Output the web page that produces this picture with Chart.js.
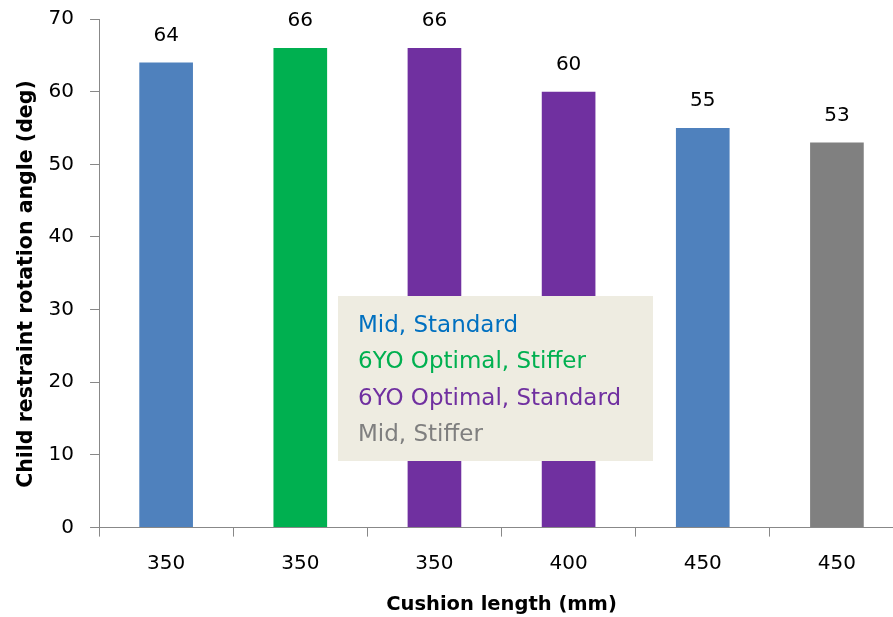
<!DOCTYPE html>
<html>
<head>
<meta charset="utf-8">
<script src="https://cdn.jsdelivr.net/npm/chart.js@4"></script>
<style>
  html, body { margin: 0; padding: 0; background: #fff; overflow: hidden; }
  #wrap { width: 906px; height: 626px; margin-top: -9px; }
</style>
</head>
<body>
<div id="wrap"><canvas id="myChart"></canvas></div>
<script>
// cushion length per run and the resulting rotation angle
const cushionLengths = ['350', '350', '350', '400', '450', '450'];
const rotationAngles = [64, 66, 66, 60, 55, 53];
const configNames = ['Mid, Standard', '6YO Optimal, Stiffer', '6YO Optimal, Standard', 'Mid, Stiffer'];
const configColors = ['#0070C0', '#00B050', '#7030A0', '#7F7F7F'];
const barColors = ['#4F81BD', '#00B050', '#7030A0', '#7030A0', '#4F81BD', '#808080'];
const yTicks = [0, 10, 20, 30, 40, 50, 60, 70];

const FONT = '"DejaVu Sans", sans-serif';

// value above each bar
const valueLabels = {
  id: 'valueLabels',
  afterDatasetsDraw(chart) {
    const ctx = chart.ctx;
    const meta = chart.getDatasetMeta(0);
    ctx.save();
    ctx.font = '20px ' + FONT;
    ctx.fillStyle = '#000';
    ctx.textAlign = 'center';
    ctx.textBaseline = 'middle';
    meta.data.forEach((bar, i) => {
      ctx.fillText(rotationAngles[i], bar.x, bar.y - 27);
    });
    ctx.restore();
  }
};

// text legend box in the middle of the plot (canvas is shifted up 9px)
const configBox = {
  id: 'configBox',
  afterDatasetsDraw(chart) {
    const ctx = chart.ctx;
    ctx.save();
    ctx.fillStyle = '#EEECE1';
    ctx.fillRect(338, 305, 315, 165);
    ctx.font = '23px ' + FONT;
    ctx.textAlign = 'left';
    ctx.textBaseline = 'middle';
    configNames.forEach((name, i) => {
      ctx.fillStyle = configColors[i];
      ctx.fillText(name, 358, 335 + i * 36.3);
    });
    ctx.restore();
  }
};

new Chart(document.getElementById('myChart'), {
  type: 'bar',
  data: {
    labels: cushionLengths,
    datasets: [{
      data: rotationAngles,
      backgroundColor: barColors,
      borderWidth: 0,
      categoryPercentage: 1,
      barPercentage: 0.4
    }]
  },
  options: {
    responsive: true,
    maintainAspectRatio: false,
    animation: false,
    layout: { padding: { top: 0, right: 2, bottom: 0, left: 3 } },
    plugins: { legend: { display: false }, tooltip: { enabled: false } },
    scales: {
      x: {
        offset: true,
        grid: {
          offset: true,
          drawOnChartArea: false,
          tickLength: 9,
          color: '#888'
        },
        border: { color: '#888' },
        ticks: { font: { family: FONT, size: 20 }, color: '#000', padding: 15 },
        title: {
          display: true,
          text: 'Cushion length (mm)',
          font: { family: FONT, size: 19.5, weight: 'bold' },
          color: '#000',
          padding: { top: 3, bottom: 0 }
        }
      },
      y: {
        min: 0,
        max: 70,
        afterBuildTicks(scale) { scale.ticks = yTicks.map(v => ({ value: v })); },
        grid: { drawOnChartArea: false, tickLength: 9, color: '#888' },
        border: { color: '#888' },
        ticks: { font: { family: FONT, size: 20 }, color: '#000', padding: 16 },
        title: {
          display: true,
          // trailing spaces nudge the rotated title a little lower
          text: 'Child restraint rotation angle (deg)   ',
          font: { family: FONT, size: 20.5, weight: 'bold' },
          color: '#000',
          padding: { top: 11, bottom: -6 }
        }
      }
    }
  },
  plugins: [valueLabels, configBox]
});
</script>
</body>
</html>
